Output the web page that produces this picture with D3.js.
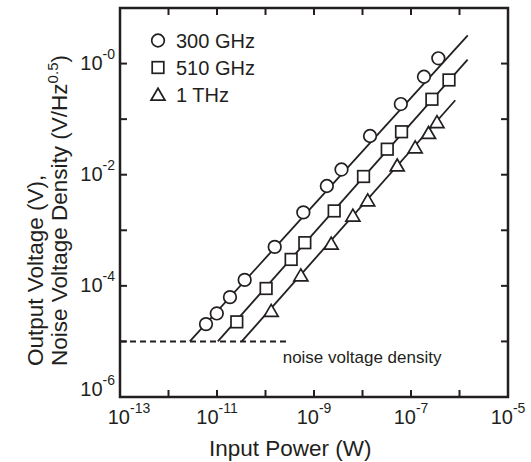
<!DOCTYPE html>
<html lang="en">
<head>
<meta charset="UTF-8">
<title>Output voltage vs input power</title>
<style>
  html, body { margin: 0; padding: 0; background: #fff; }
  svg { display: block; font-family: "Liberation Sans", Arial, sans-serif; }
</style>
</head>
<body>
<script src="https://d3js.org/d3.v7.min.js"></script>
<script>
// measured points (input power W, output voltage V)
const p300 = [5.93e-12, 9.9e-12, 1.85e-11, 3.72e-11, 1.55e-10, 6.03e-10, 1.84e-9, 3.69e-9, 1.43e-8, 6.17e-8, 1.85e-7, 3.66e-7];
const v300 = [2.05e-5, 3.19e-5, 6.26e-5, 1.28e-4, 5.02e-4, 2.10e-3, 6.27e-3, 1.24e-2, 4.97e-2, 0.187, 0.579, 1.245];
const p510 = [2.56e-11, 1.03e-10, 3.38e-10, 6.47e-10, 2.61e-9, 1.05e-8, 3.24e-8, 6.38e-8, 2.70e-7, 6.07e-7];
const v510 = [2.25e-5, 8.97e-5, 2.99e-4, 5.98e-4, 2.23e-3, 9.29e-3, 2.88e-2, 5.93e-2, 0.228, 0.507];
const p1t = [1.31e-10, 5.36e-10, 2.26e-9, 6.34e-9, 1.28e-8, 5.20e-8, 1.22e-7, 2.30e-7, 3.43e-7];
const v1t = [3.58e-5, 1.56e-4, 5.79e-4, 1.85e-3, 3.48e-3, 1.48e-2, 3.13e-2, 5.69e-2, 8.91e-2];

// fitted lines: [startP, startV, endP, endV]
const fit300 = [2.75e-12, 1e-5, 1.48e-6, 3.23];
const fit510 = [1.04e-11, 1e-5, 1.47e-6, 1.18];
const fit1t = [3.24e-11, 1e-5, 8.18e-7, 0.219];

// noise voltage density level and extent
const noiseLevel = 1e-5;
const noiseRange = [1e-13, 3.2e-10];

const seriesNames = ["300 GHz", "510 GHz", "1 THz"];
const seriesShapes = ["circle", "square", "triangle"];

const xTickExps = [-13, -12, -11, -10, -9, -8, -7, -6, -5];
const xLabelExps = [-13, -11, -9, -7, -5];
const yTickExps = [-6, -5, -4, -3, -2, -1, 0, 1];
const yLabelExps = [-6, -4, -2, 0];

const W = 531, H = 462;
const margin = { left: 120, right: 23, top: 8, bottom: 65 };

const svg = d3.select("body").append("svg").attr("width", W).attr("height", H);

const x = d3.scaleLog().domain([1e-13, 1e-5]).range([margin.left, W - margin.right]);
const y = d3.scaleLog().domain([1e-6, 10]).range([H - margin.bottom, margin.top]);

const x0 = x.range()[0], x1 = x.range()[1];
const y0 = y.range()[0], y1 = y.range()[1];
const tickLen = 7;

// ticks on all four sides, pointing in
const g = svg.append("g").attr("stroke", "#231f20").attr("stroke-width", 2);
xTickExps.forEach(e => {
  const px = x(Math.pow(10, e));
  g.append("line").attr("x1", px).attr("x2", px).attr("y1", y0).attr("y2", y0 - tickLen);
  g.append("line").attr("x1", px).attr("x2", px).attr("y1", y1).attr("y2", y1 + tickLen);
});
yTickExps.forEach(e => {
  const py = y(Math.pow(10, e));
  g.append("line").attr("x1", x0).attr("x2", x0 + tickLen).attr("y1", py).attr("y2", py);
  g.append("line").attr("x1", x1).attr("x2", x1 - tickLen).attr("y1", py).attr("y2", py);
});

svg.append("rect")
  .attr("x", x0).attr("y", y1).attr("width", x1 - x0).attr("height", y0 - y1)
  .attr("fill", "none").attr("stroke", "#231f20").attr("stroke-width", 2.5);

// tick labels
xLabelExps.forEach(e => {
  const t = svg.append("text")
    .attr("x", x(Math.pow(10, e)) + (e === -13 ? 9 : 0))
    .attr("y", 424)
    .attr("text-anchor", "middle")
    .attr("font-size", 20)
    .attr("fill", "#231f20");
  t.append("tspan").text("10");
  t.append("tspan").attr("dy", -11).attr("font-size", 14).text(String(e));
});
yLabelExps.forEach(e => {
  const base = e === -6 ? y(1e-6) - 1 : y(Math.pow(10, e)) + 6;
  const t = svg.append("text")
    .attr("x", 115)
    .attr("y", base)
    .attr("text-anchor", "end")
    .attr("font-size", 20)
    .attr("fill", "#231f20");
  t.append("tspan").text("10");
  t.append("tspan").attr("dy", -11).attr("font-size", 14).text("-" + Math.abs(e));
});

// axis titles
svg.append("text")
  .attr("x", 209).attr("y", 456)
  .attr("font-size", 22.5).attr("fill", "#231f20")
  .text("Input Power (W)");

const yt1 = svg.append("text")
  .attr("transform", "translate(43,366) rotate(-90)")
  .attr("font-size", 22.5).attr("fill", "#231f20")
  .text("Output Voltage (V),");
const yt2 = svg.append("text")
  .attr("transform", "translate(67,366) rotate(-90)")
  .attr("font-size", 22.5).attr("fill", "#231f20");
yt2.append("tspan").text("Noise Voltage Density (V/Hz");
yt2.append("tspan").attr("dy", -9).attr("font-size", 15).text("0.5");
yt2.append("tspan").attr("dy", 9).text(")");

// noise floor
svg.append("line")
  .attr("x1", x(noiseRange[0])).attr("x2", x(noiseRange[1]))
  .attr("y1", y(noiseLevel)).attr("y2", y(noiseLevel))
  .attr("stroke", "#231f20").attr("stroke-width", 2)
  .attr("stroke-dasharray", "6,4");

svg.append("text")
  .attr("x", x(2.26e-10)).attr("y", y(noiseLevel) + 22)
  .attr("font-size", 17).attr("fill", "#231f20")
  .text("noise voltage density");

// fit lines
[fit300, fit510, fit1t].forEach(f => {
  svg.append("line")
    .attr("x1", x(f[0])).attr("y1", y(f[1]))
    .attr("x2", x(f[2])).attr("y2", y(f[3]))
    .attr("stroke", "#231f20").attr("stroke-width", 1.8);
});

// marker drawing
function marker(sel, shape) {
  if (shape === "circle") {
    sel.append("circle").attr("r", 6.3);
  } else if (shape === "square") {
    sel.append("rect").attr("x", -5.8).attr("y", -5.8).attr("width", 11.6).attr("height", 11.6);
  } else {
    sel.append("path").attr("d", "M0,-6.3L7,5.7L-7,5.7Z");
  }
}

const data = [[p300, v300], [p510, v510], [p1t, v1t]];
data.forEach((d, i) => {
  const pts = d[0].map((p, j) => [p, d[1][j]]);
  svg.append("g").selectAll("g")
    .data(pts)
    .join("g")
    .attr("transform", p => `translate(${x(p[0])},${y(p[1])})`)
    .attr("fill", "#fff").attr("stroke", "#231f20").attr("stroke-width", 1.7)
    .each(function () { marker(d3.select(this), seriesShapes[i]); });
});

// legend
const legendY = [40.5, 67.5, 94.5];
seriesNames.forEach((name, i) => {
  const lg = svg.append("g")
    .attr("transform", `translate(158,${legendY[i]})`)
    .attr("fill", "#fff").attr("stroke", "#231f20").attr("stroke-width", 1.7);
  marker(lg, seriesShapes[i]);
  svg.append("text")
    .attr("x", 176).attr("y", legendY[i] + 7)
    .attr("font-size", 20).attr("fill", "#231f20")
    .text(name);
});
</script>
</body>
</html>
